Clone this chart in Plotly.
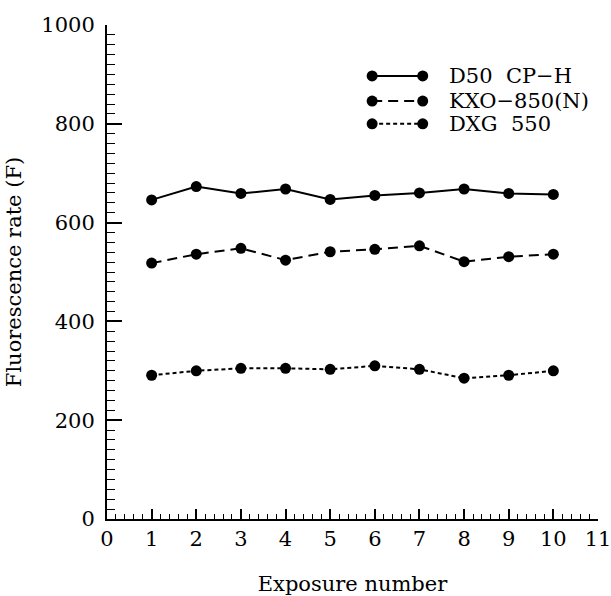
import plotly.graph_objects as go

exposure = [1, 2, 3, 4, 5, 6, 7, 8, 9, 10]
d50_cph = [646, 673, 659, 668, 647, 655, 660, 668, 659, 657]
kxo_850n = [518, 536, 548, 524, 541, 546, 553, 521, 531, 536]
dxg_550 = [291, 300, 305, 305, 303, 310, 303, 285, 291, 300]

series_names = ["D50  CP\u2212H", "KXO\u2212850(N)", "DXG  550"]
series_values = [d50_cph, kxo_850n, dxg_550]
series_dash = ["solid", "10px,6px", "4px,3px"]

x_tick_vals = list(range(0, 12))
y_tick_vals = [0, 200, 400, 600, 800, 1000]

FONT = "DejaVu Serif"

fig = go.Figure()
for name, vals, dash in zip(series_names, series_values, series_dash):
    fig.add_trace(go.Scatter(
        x=exposure, y=vals, mode="lines+markers", name=name,
        line=dict(color="black", width=2, dash=dash),
        marker=dict(color="black", size=11),
        showlegend=False,
    ))

# custom legend (overlay axis in 0..1 units of the plot area)
leg_x0, leg_x1, leg_text_x = 0.540, 0.643, 0.692
leg_rows = [0.897, 0.846, 0.800]
for name, dash, ly in zip(series_names, series_dash, leg_rows):
    fig.add_trace(go.Scatter(
        x=[leg_x0, leg_x1], y=[ly, ly], xaxis="x2", yaxis="y2",
        mode="lines+markers", line=dict(color="black", width=2, dash=dash),
        marker=dict(color="black", size=11), showlegend=False, hoverinfo="skip",
    ))
    fig.add_annotation(x=leg_text_x, y=ly, xref="x2", yref="y2", text=name,
                       showarrow=False, xanchor="left", yanchor="middle",
                       font=dict(family=FONT, size=21, color="black"))

fig.update_layout(
    width=611, height=596,
    margin=dict(l=107, r=13, t=25, b=77, autoexpand=False),
    paper_bgcolor="white", plot_bgcolor="white",
    font=dict(family=FONT, size=21, color="black"),
    xaxis=dict(
        range=[0, 11], tickvals=x_tick_vals, ticks="inside", ticklen=10,
        tickwidth=1.5, tickcolor="black", showline=True, linecolor="black",
        linewidth=2, showgrid=False, zeroline=False, automargin=False,
        ticklabeloverflow="allow",
        minor=dict(dtick=0.2, ticks="inside", ticklen=5, tickcolor="black", tickwidth=1.3),
        title=dict(text="Exposure number", font=dict(family=FONT, size=21), standoff=32),
        tickfont=dict(family=FONT, size=21),
    ),
    yaxis=dict(
        range=[0, 1000], tickvals=y_tick_vals, ticks="inside", ticklen=15,
        tickwidth=1.5, tickcolor="black", showline=True, linecolor="black",
        linewidth=2, showgrid=False, zeroline=False, automargin=True,
        ticklabelstandoff=6, ticklabeloverflow="allow",
        minor=dict(dtick=20, ticks="inside", ticklen=8, tickcolor="black", tickwidth=1.3),
        title=dict(text="Fluorescence rate (F)", font=dict(family=FONT, size=21), standoff=14),
        tickfont=dict(family=FONT, size=21),
    ),
    xaxis2=dict(range=[0, 1], overlaying="x", visible=False, fixedrange=True),
    yaxis2=dict(range=[0, 1], overlaying="y", visible=False, fixedrange=True),
)

fig.write_html("out.html")
